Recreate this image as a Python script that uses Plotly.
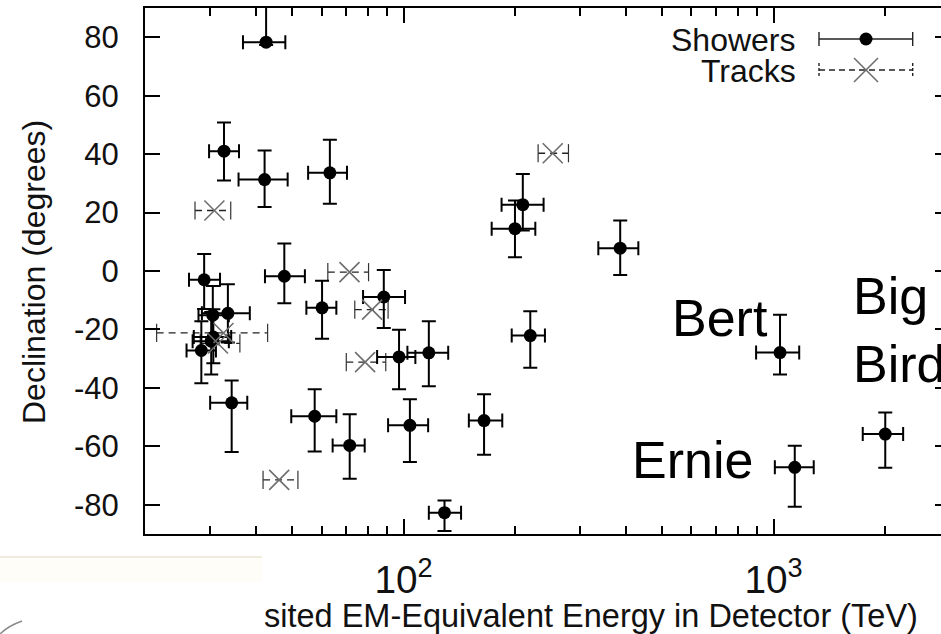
import math
import plotly.graph_objects as go

# ---------------- data ----------------
shower_ids = [1, 2, 4, 6, 7, 9, 10, 11, 12, 14, 15, 16, 17, 19, 20, 21, 22, 24,
              25, 26, 27, 29, 30, 31, 33, 34, 35, 36]
shower_energy = [47.6, 117, 165, 28.4, 34.3, 63.2, 97.2, 88.4, 104, 1041, 57.5, 30.6,
                 200, 71.5, 1141, 30.2, 220, 30.5, 33.5, 210, 60.2, 32.7, 129, 42.5,
                 385, 42.1, 2004, 28.9]
shower_e_plus = [6.5, 15, 19.8, 2.7, 3.5, 7.1, 10.4, 12.5, 12.5, 132, 8.3, 3.6,
                 27, 7.0, 143, 3.5, 21, 3.2, 4.9, 29, 5.6, 3.2, 14, 5.4,
                 46, 6.5, 236, 3.0]
shower_e_minus = [5.4, 14.6, 14.9, 2.5, 4.3, 8.0, 12.4, 10.7, 13.2, 144, 7.8, 3.5,
                  27, 7.2, 133, 3.3, 24, 2.6, 5.0, 26, 5.6, 2.9, 12, 5.7,
                  49, 6.3, 262, 2.6]
shower_dec = [-1.8, -28.0, -51.2, -27.2, -45.1, 33.6, -29.4, -8.9, -52.8, -27.9, -49.7,
              -22.6, 14.5, -59.7, -67.2, -24.0, -22.1, -15.1, -14.5, 22.7, -12.6, 41.0,
              -82.7, 78.3, 7.8, 31.3, -55.8, -3.0]
shower_dec_plus = [11.2, 10.8, 9.0, 10.0, 7.6, 11.3, 9.3, 9.2, 8.9, 12.9, 9.2, 9.5,
                   9.6, 10.7, 7.4, 10.0, 8.3, 10.0, 10.0, 10.5, 9.3, 9.8, 4.2, 12.0,
                   9.5, 9.9, 7.4, 8.8]
shower_dec_minus = [9.2, 11.4, 11.7, 11.2, 16.8, 10.6, 11.1, 10.6, 12.6, 7.5, 12.1, 9.0,
                    9.8, 11.4, 13.5, 11.4, 11.0, 10.0, 10.0, 8.8, 10.6, 10.0, 6.3, 1.0,
                    9.2, 9.4, 11.5, 10.0]

track_ids = [3, 5, 8, 13, 18, 23, 28, 37]
track_energy = [78.7, 71.4, 32.6, 253, 31.5, 82.2, 46.1, 30.8]
track_e_plus = [10.8, 9.0, 10.3, 26, 4.6, 8.6, 5.7, 3.3]
track_e_minus = [8.7, 9.0, 11.1, 22, 3.3, 8.4, 4.4, 3.5]
track_dec = [-31.2, -0.4, -21.2, 40.3, -24.8, -13.2, -71.5, 20.7]

y_ticks = [-80, -60, -40, -20, 0, 20, 40, 60, 80]
y_tick_text = ["-80", "-60", "-40", "-20", "0", "20", "40", "60", "80"]
x_range = [20, 2835]
y_range = [-90, 90]

legend_labels = ["Showers", "Tracks"]
event_names = ["Bert", "Ernie", "Big<br>Bird"]
x_title = "sited EM-Equivalent Energy in Detector (TeV)"
y_title = "Declination (degrees)"

# ---------------- layout geometry ----------------
W, H = 941, 634
ML, MR, MT, MB = 145, 0, 8, 100
PW, PH = W - ML - MR, H - MT - MB
FONT = "Liberation Sans, Arial, Helvetica, sans-serif"


def px(xp):
    return (xp - ML) / PW


def py(yp):
    return (H - MB - yp) / PH


fig = go.Figure()

# track error bars (dashed) built from the data arrays
tx, ty, capx, capy = [], [], [], []
for e, lo, hi, d in zip(track_energy, track_e_minus, track_e_plus, track_dec):
    tx += [e - lo, e + hi, None]
    ty += [d, d, None]
    capx += [e - lo, e + hi]
    capy += [d, d]
fig.add_trace(go.Scatter(x=tx, y=ty, mode="lines",
                         line=dict(color="#222", width=1.3, dash="7px,5px"),
                         hoverinfo="skip", showlegend=False))
fig.add_trace(go.Scatter(x=capx, y=capy, mode="markers",
                         marker=dict(symbol="line-ns", size=13,
                                     line=dict(color="#333", width=1.2)),
                         hoverinfo="skip", showlegend=False))

# showers
fig.add_trace(go.Scatter(
    x=shower_energy, y=shower_dec, mode="markers", name="Showers",
    marker=dict(symbol="circle", size=13, color="black"),
    error_x=dict(type="data", symmetric=False, array=shower_e_plus,
                 arrayminus=shower_e_minus, thickness=2, width=7, color="black"),
    error_y=dict(type="data", symmetric=False, array=shower_dec_plus,
                 arrayminus=shower_dec_minus, thickness=2, width=7, color="black"),
    showlegend=False))

# track markers
fig.add_trace(go.Scatter(
    x=track_energy, y=track_dec, mode="markers", name="Tracks",
    marker=dict(symbol="x-thin", size=20, line=dict(color="#6e6e6e", width=1.6)),
    showlegend=False))

# dummy trace to attach the right-hand tick axis
fig.add_trace(go.Scatter(x=[None], y=[None], yaxis="y2", showlegend=False,
                         hoverinfo="skip"))

axis_common = dict(showgrid=False, zeroline=False, ticks="inside", ticklen=15,
                   tickwidth=1.5, tickcolor="black",
                   tickfont=dict(family=FONT, size=31, color="#111"))

fig.update_layout(
    width=W, height=H,
    margin=dict(l=ML, r=MR, t=MT, b=MB, pad=0),
    paper_bgcolor="white", plot_bgcolor="white",
    showlegend=False,
    font=dict(family=FONT, color="black"),
    xaxis=dict(type="log", range=[math.log10(x_range[0]), math.log10(x_range[1])],
               dtick=1, exponentformat="power", showexponent="all",
               showline=True, linecolor="black", linewidth=2, mirror="ticks",
               ticklabelstandoff=12,
               minor=dict(ticks="inside", ticklen=8, tickwidth=1.5,
                          tickcolor="black", dtick="D1", showgrid=False),
               **axis_common),
    yaxis=dict(range=y_range, tickvals=y_ticks, ticktext=y_tick_text, showline=True,
               linecolor="black", linewidth=2, mirror=False, ticklabelstandoff=18,
               **axis_common),
    yaxis2=dict(range=y_range, tickvals=y_ticks, overlaying="y", side="right",
                showticklabels=False, showline=False, showgrid=False, zeroline=False,
                ticks="inside", ticklen=6, tickwidth=1.5, tickcolor="black"),
)

ann = []
# axis titles
ann.append(dict(text=x_title, xref="paper", yref="paper", x=px(262), y=py(615.5),
                xanchor="left", yanchor="middle", showarrow=False,
                font=dict(family=FONT, size=32.5, color="#111")))
ann.append(dict(text=y_title, xref="paper", yref="paper", x=px(34), y=py(272),
                xanchor="center", yanchor="middle", textangle=-90, showarrow=False,
                font=dict(family=FONT, size=32, color="#111")))
# event names
name_pos = [(670, 318), (630, 459.7), (851, 330)]
for t, (xx, yy) in zip(event_names, name_pos):
    ann.append(dict(text=t, xref="paper", yref="paper", x=px(xx), y=py(yy),
                    xanchor="left", yanchor="middle", align="left", showarrow=False,
                    font=dict(family=FONT, size=52, color="black")))
# legend text
for t, yy in zip(legend_labels, [39.5, 71]):
    ann.append(dict(text=t, xref="paper", yref="paper", x=px(798), y=py(yy),
                    xanchor="right", yanchor="middle", showarrow=False,
                    font=dict(family=FONT, size=32, color="#111")))
fig.update_layout(annotations=ann)

shapes = []
# legend samples
for yy, dash in [(39, "solid"), (70, "6px,4px")]:
    shapes.append(dict(type="line", xref="paper", yref="paper", x0=px(819), x1=px(912.7),
                       y0=py(yy), y1=py(yy), line=dict(color="#222", width=1.4, dash=dash)))
    for xx in (819, 912.7):
        shapes.append(dict(type="line", xref="paper", yref="paper", x0=px(xx), x1=px(xx),
                           y0=py(yy - 7), y1=py(yy + 7),
                           line=dict(color="#222", width=1.4,
                                     dash="solid" if dash == "solid" else "3px,2px")))
shapes.append(dict(type="circle", xref="paper", yref="paper",
                   x0=px(866 - 6.5), x1=px(866 + 6.5), y0=py(39 - 6.5), y1=py(39 + 6.5),
                   fillcolor="black", line=dict(color="black", width=0)))
for s in (-1, 1):
    shapes.append(dict(type="line", xref="paper", yref="paper",
                       x0=px(866 - 12), x1=px(866 + 12), y0=py(70 - 12 * s), y1=py(70 + 12 * s),
                       line=dict(color="#6e6e6e", width=1.6)))
# slide decoration at bottom left
shapes.append(dict(type="rect", xref="paper", yref="paper", x0=px(0), x1=px(262),
                   y0=py(558), y1=py(582), fillcolor="#fefdf7", line=dict(width=0),
                   layer="below"))
shapes.append(dict(type="line", xref="paper", yref="paper", x0=px(0), x1=px(262),
                   y0=py(557), y1=py(557), line=dict(color="#f1ebdf", width=2)))
shapes.append(dict(type="path", xref="paper", yref="paper",
                   path=f"M {px(0)},{py(634)} Q {px(8)},{py(626)} {px(22)},{py(621)}",
                   line=dict(color="#8a8a8a", width=1.5)))
fig.update_layout(shapes=shapes)

fig.write_html("out.html")
